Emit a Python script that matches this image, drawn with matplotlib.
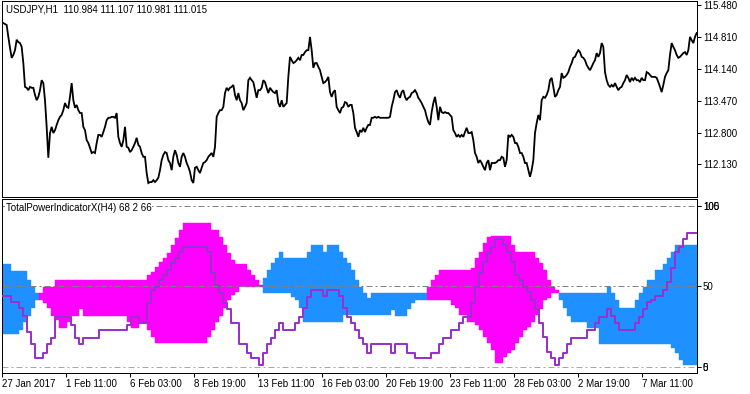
import numpy as np
import matplotlib
matplotlib.use('Agg')
import matplotlib.pyplot as plt

plt.rcParams['font.family'] = ['Liberation Sans', 'DejaVu Sans']
plt.rcParams['lines.scale_dashes'] = False

# ---------------- data ----------------
# USDJPY H1 price, sampled every 5/3 H1 bars starting at bar 1.33 (bar 0 = 27 Jan 19:00)
price = [
    115.10, 115.08, 115.06, 114.81, 114.58, 114.37, 114.43, 114.53, 114.75, 114.70,
    114.68, 114.60, 114.26, 113.76, 113.74, 113.69, 113.76, 113.74, 113.74, 113.59,
    113.48, 113.55, 113.69, 113.90, 113.84, 113.48, 112.92, 112.27, 112.79, 112.92,
    112.79, 112.85, 112.96, 113.06, 113.13, 113.17, 113.27, 113.42, 113.34, 113.32,
    113.55, 113.84, 113.48, 113.32, 113.38, 113.27, 113.21, 113.21, 112.92, 112.85,
    112.64, 112.58, 112.48, 112.37, 112.39, 112.37, 112.58, 112.75, 112.75, 112.71,
    112.81, 112.92, 113.06, 113.11, 113.11, 113.13, 113.13, 113.11, 113.21, 112.71,
    112.58, 112.50, 112.64, 112.92, 112.50, 112.48, 112.39, 112.43, 112.50, 112.58,
    112.69, 112.54, 112.50, 112.37, 112.29, 112.29, 111.95, 111.74, 111.76, 111.76,
    111.80, 111.76, 111.80, 111.85, 112.01, 112.22, 112.33, 112.39, 112.37, 112.22,
    112.16, 112.01, 112.29, 112.43, 112.33, 112.16, 112.08, 112.29, 112.37, 112.29,
    112.16, 112.08, 111.97, 111.80, 111.74, 112.06, 112.08, 112.01, 111.95, 112.06,
    112.16, 112.18, 112.22, 112.29, 112.33, 112.37, 112.29, 112.50, 113.13, 113.21,
    113.27, 113.27, 113.34, 113.63, 113.74, 113.69, 113.74, 113.76, 113.80, 113.59,
    113.48, 113.63,
    113.48, 113.42, 113.27, 113.34, 113.42, 113.90, 113.95, 113.90, 113.86, 113.69,
    113.53, 113.69, 113.69, 113.74, 113.90, 113.86, 113.74, 113.63, 113.74, 113.69,
    113.65, 113.63, 113.69, 113.42, 113.34, 113.48, 113.34, 113.38, 113.42, 113.97,
    114.39, 114.32, 114.26, 114.28, 114.32, 114.37, 114.32, 114.43, 114.43, 114.49,
    114.53, 114.53, 114.81, 114.53, 114.16, 114.26, 114.26, 114.18, 114.11, 113.97,
    113.84, 113.86, 113.90, 113.97, 113.65, 113.55, 113.65, 113.69, 113.34, 113.27,
    113.21, 113.32, 113.34, 113.44, 113.42, 113.34, 113.38, 113.38, 113.21, 112.90,
    112.81, 112.71, 112.85, 112.81, 112.90, 112.81, 112.90, 112.96, 112.96, 113.11,
    113.11, 113.13, 113.11, 113.13, 113.11, 113.11, 113.11, 113.11, 113.11, 113.11,
    113.13, 113.34, 113.48, 113.65, 113.69, 113.59, 113.53, 113.65, 113.69, 113.55,
    113.48, 113.53, 113.55, 113.63, 113.65, 113.69, 113.63, 113.53, 113.48, 113.42,
    113.34, 113.27, 113.13, 113.02, 112.96, 113.23, 113.42, 113.55, 113.34, 113.06,
    113.34, 113.23, 113.21, 113.23, 113.21, 113.21, 113.17, 113.13, 112.85, 112.79,
    112.71, 112.75, 112.71, 112.75, 112.71, 112.81, 112.90, 112.79,
    112.79, 112.81, 112.64, 112.37, 112.29, 112.16, 112.22, 112.16, 112.08, 112.01,
    112.16, 112.22, 112.01, 112.16, 112.16, 112.16, 112.18, 112.22, 112.22, 112.29,
    112.27, 112.08, 112.22, 112.75, 112.71, 112.75, 112.71, 112.58, 112.58, 112.50,
    112.37, 112.37, 112.29, 112.16, 112.16, 112.01, 111.87, 112.01, 112.22, 112.79,
    113.00, 113.17, 113.06, 113.48, 113.55, 113.53, 113.59, 113.69, 113.90, 113.95,
    113.76, 113.55, 113.59, 113.69, 113.76, 114.05, 113.95, 113.97, 114.01, 114.07,
    114.18, 114.26, 114.37, 114.39, 114.47, 114.53, 114.49, 114.39, 114.37, 114.32,
    114.22, 114.16, 114.11, 114.18, 114.26, 114.32, 114.47, 114.39, 114.47, 114.68,
    114.60, 114.07, 113.90, 113.80, 113.76, 113.80, 113.76, 113.84, 113.76, 113.69,
    113.74, 113.76, 113.84, 113.90, 114.01, 113.95, 113.86, 113.95, 113.90, 113.95,
    113.90, 113.90, 113.86, 113.95, 113.90, 113.90, 114.07, 114.05, 114.01, 113.97,
    113.97, 113.97, 113.95, 113.86, 113.76, 113.65, 113.80, 113.97, 114.05, 114.11,
    114.43, 114.68, 114.60, 114.53, 114.43, 114.37, 114.39, 114.43, 114.47, 114.49,
    114.43, 114.53, 114.81, 114.74, 114.68, 114.81, 114.89,
]

# TotalPowerIndicatorX on H4 bars (bar k starts at H1 bar 4k-3)
bulls = [
    20.1, 20.1, 20.1, 20.1, 20.1, 22.8, 28.0, 31.5, 36.3, 41.5,
    45.6, 49.8, 49.8, 49.8, 53.9, 53.9, 53.9, 53.9, 53.9, 53.9,
    53.9, 53.9, 53.9, 53.9, 53.9, 53.9, 53.9, 53.9, 53.9, 53.9,
    53.9, 53.9, 53.9, 53.9, 53.9, 53.9, 53.9, 57.1, 59.1, 62.2,
    65.4, 67.4, 70.5, 75.7, 79.9, 85.1, 89.2, 89.2, 89.2, 89.2,
    89.2, 89.2, 89.2, 85.1, 85.1, 80.9, 75.7, 70.5, 66.4, 63.9,
    63.9, 63.9, 60.2, 57.1, 53.9, 50.8, 45.6, 45.6, 45.6, 45.6,
    45.6, 45.6, 45.6, 43.6, 41.5, 36.3, 28.0, 28.0, 28.0, 28.0,
    28.0, 28.0, 28.0, 28.0, 28.0, 28.0, 32.2, 32.2, 32.2, 32.2,
    32.2, 32.2, 32.2, 32.2, 32.2, 32.2, 32.2, 32.2, 35.3, 31.5,
    31.5, 31.5, 35.7, 39.4, 41.5, 41.5, 41.5, 49.8, 53.9, 57.1,
    60.2, 60.2, 60.2, 60.2, 60.2, 60.2, 60.2, 60.2, 61.2, 67.4,
    71.6, 76.8, 80.9, 81.5, 81.5, 81.5, 81.5, 81.5, 75.7, 71.6,
    71.6, 71.6, 71.6, 71.6, 67.4, 64.3, 60.2, 53.9, 49.8, 47.7,
    41.5, 36.3, 31.5, 28.0, 28.0, 28.0, 28.0, 23.9, 23.9, 23.9,
    14.1, 14.1, 14.1, 14.1, 14.1, 14.1, 14.1, 14.1, 14.1, 14.1,
    14.1, 14.1, 14.1, 14.1, 14.1, 14.1, 14.1, 14.1, 11.4, 8.3,
    4.1, 1.0, 1.0, 1.0, 1.0,
]
bears = [
    63.9, 63.9, 63.9, 59.5, 59.5, 59.5, 59.5, 53.9, 49.8, 45.6,
    41.5, 39.4, 36.3, 31.5, 29.0, 23.9, 23.9, 28.0, 31.5, 31.5,
    35.7, 31.5, 31.5, 31.5, 31.5, 31.5, 31.5, 31.5, 31.5, 31.5,
    31.5, 31.5, 28.0, 23.9, 23.9, 28.0, 28.0, 22.8, 18.7, 14.5,
    14.5, 14.5, 14.5, 14.5, 14.5, 14.5, 14.5, 14.5, 14.5, 14.5,
    14.5, 14.5, 18.7, 22.8, 28.0, 31.5, 36.3, 41.5, 44.6, 46.7,
    49.8, 49.8, 49.8, 49.8, 49.8, 49.8, 55.0, 60.2, 64.3, 67.4,
    71.6, 67.4, 67.4, 67.4, 67.4, 67.4, 67.4, 71.6, 75.7, 75.7,
    75.7, 71.6, 75.7, 75.7, 75.7, 71.6, 67.4, 64.3, 60.2, 53.9,
    49.8, 45.6, 42.5, 45.6, 45.6, 45.6, 45.6, 45.6, 45.6, 45.6,
    45.6, 45.6, 45.6, 45.6, 45.6, 45.6, 45.6, 41.5, 41.5, 41.5,
    41.5, 41.5, 41.5, 38.4, 36.3, 32.2, 32.2, 28.0, 28.0, 25.9,
    22.8, 18.7, 14.5, 10.4, 2.5, 2.5, 6.2, 8.3, 10.4, 14.5,
    18.7, 22.8, 24.9, 28.0, 32.2, 35.7, 41.5, 42.5, 45.6, 45.6,
    45.6, 45.6, 45.6, 45.6, 45.6, 45.6, 45.6, 45.6, 45.6, 45.6,
    45.6, 45.6, 49.8, 45.6, 41.5, 36.3, 36.3, 36.3, 36.3, 41.5,
    45.6, 49.8, 53.9, 53.9, 60.2, 60.2, 63.9, 67.4, 71.6, 75.7,
    75.7, 75.7, 75.7, 75.7, 75.7,
]
power = [
    44.0, 44.0, 44.0, 40.5, 40.5, 36.3, 31.5, 21.8, 14.1, 5.2,
    5.2, 8.3, 14.1, 17.6, 31.1, 31.1, 31.1, 31.1, 25.9, 17.6,
    14.1, 17.6, 17.6, 17.6, 17.6, 22.8, 22.8, 22.8, 22.8, 22.8,
    22.8, 22.8, 25.9, 31.1, 31.1, 27.0, 27.0, 39.4, 47.7, 49.8,
    53.9, 57.1, 60.2, 64.3, 67.4, 71.6, 74.7, 74.7, 74.7, 74.7,
    74.7, 74.7, 71.6, 58.1, 50.8, 45.6, 39.4, 35.7, 27.0, 27.0,
    14.1, 14.1, 8.3, 5.2, 5.2, 1.0, 8.3, 14.1, 17.6, 22.8,
    27.0, 22.8, 22.8, 22.8, 27.0, 31.1, 36.3, 43.6, 47.7, 47.7,
    47.7, 44.0, 47.7, 47.7, 47.7, 44.0, 36.3, 31.1, 27.0, 22.8,
    17.6, 14.1, 8.7, 14.1, 14.1, 14.1, 14.1, 14.1, 8.7, 14.1,
    14.1, 14.1, 8.7, 8.7, 5.2, 5.2, 5.2, 5.2, 8.7, 8.7,
    14.1, 17.6, 17.6, 22.8, 22.8, 27.0, 31.1, 31.1, 39.4, 49.8,
    58.1, 65.4, 70.5, 74.7, 79.3, 79.3, 75.7, 71.6, 65.4, 57.1,
    53.9, 49.8, 46.7, 41.5, 35.7, 27.0, 18.7, 9.3, 5.2, 1.0,
    5.2, 8.7, 14.1, 17.6, 17.6, 17.6, 17.6, 22.8, 22.8, 27.0,
    31.1, 31.1, 35.7, 31.5, 27.0, 22.8, 22.8, 22.8, 22.8, 27.0,
    31.1, 35.7, 40.5, 41.5, 44.0, 44.0, 47.7, 52.9, 61.2, 71.6,
    74.7, 79.3, 83.4, 83.4, 83.4,
]

price_ticks = [112.130, 112.800, 113.470, 114.140, 114.810, 115.480]
date_ticks = [0, 64, 128, 192, 256, 320, 384, 448, 512, 576, 640]
date_labels = ['27 Jan 2017', '1 Feb 11:00', '6 Feb 03:00', '8 Feb 19:00',
               '13 Feb 11:00', '16 Feb 03:00', '20 Feb 19:00', '23 Feb 11:00',
               '28 Feb 03:00', '2 Mar 19:00', '7 Mar 11:00']
levels = [100, 50, 0]
title_main = 'USDJPY,H1  110.984 111.107 110.981 111.015'
title_ind = 'TotalPowerIndicatorX(H4) 68 2 66'

# ---------------- figure ----------------
W, H = 750, 394
PX = 72 / 100.0
fig = plt.figure(figsize=(7.5, 3.94), dpi=100)
fig.patch.set_facecolor('white')


def px_axes(l, t, r, b):
    return fig.add_axes([l / W, 1 - b / H, (r - l) / W, (b - t) / H])


ax1 = px_axes(2, 1, 697, 197)
ax2 = px_axes(2, 199, 697, 372.7)

for ax in (ax1, ax2):
    for s in ax.spines.values():
        s.set_linewidth(1 * PX)
        s.set_color('black')
    ax.set_xlim(0, 695)
    ax.tick_params(axis='both', direction='out', length=4 * PX, width=1 * PX,
                   pad=2 * PX, labelsize=7, colors='black')

# price panel
t_price = 1.33 + np.arange(len(price)) * 5.0 / 3.0
ax1.plot(t_price, price, color='black', lw=1.3, solid_joinstyle='miter')
ax1.set_ylim(111.446, 115.564)
ax1.yaxis.tick_right()
ax1.set_yticks(price_ticks)
ax1.set_yticklabels(['%.3f' % v for v in price_ticks])
ax1.set_xticks([])

# indicator panel
bulls_a = np.array(bulls)
bears_a = np.array(bears)
k = np.arange(len(bulls))
h4_start = 4 * k - 3
low = np.minimum(bulls_a, bears_a)
height = np.abs(bulls_a - bears_a)
colors = np.where(bulls_a >= bears_a, '#FF00FF', '#1E90FF')
ax2.bar(h4_start, height, bottom=low, width=4, align='edge', color=colors,
        edgecolor=colors, linewidth=0.3, zorder=1)

lvl_colors = ['#808080', '#808080', '#A8A8A8']
for lv, c in zip(levels, lvl_colors):
    ax2.axhline(lv, color=c, lw=1 * PX, linestyle=(0, (6 * PX, 3 * PX, 2 * PX, 3 * PX)), zorder=2)

xs = np.append(h4_start, h4_start[-1] + 4)
ys = np.append(power, power[-1])
ax2.step(xs, ys, where='post', color='#9932CC', lw=2 * PX, zorder=3)

ax2.set_ylim(-3.8, 104.3)
ax2.yaxis.tick_right()
ax2.set_yticks([0, 0.01, 50, 100, 100.01])
ax2.set_yticklabels(['0', '5', '50', '100', '105'])
ax2.set_xticks(date_ticks)
ax2.set_xticklabels(date_labels)
for lab in ax2.get_xticklabels():
    lab.set_horizontalalignment('left')

fig.text(6 / W, 1 - 10 / H, title_main, fontsize=7, va='center', ha='left')
fig.text(6 / W, 1 - 208 / H, title_ind, fontsize=7, va='center', ha='left',
         bbox=dict(facecolor='white', edgecolor='none', pad=0.5))

fig.savefig('out.png', dpi=100, facecolor='white')
